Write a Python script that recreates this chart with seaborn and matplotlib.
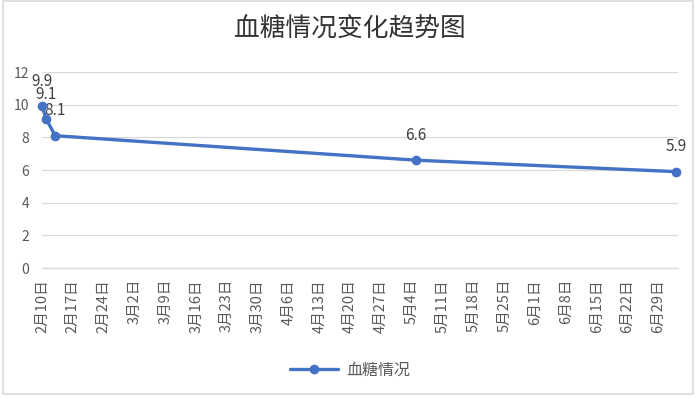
import matplotlib
matplotlib.use("Agg")
import matplotlib.pyplot as plt
from matplotlib.patches import Rectangle
import pandas as pd
import seaborn as sns

# ---- data ----
dates = ["2020-02-10", "2020-02-11", "2020-02-13", "2020-05-05", "2020-07-03"]
values = [9.9, 9.1, 8.1, 6.6, 5.9]
series_name = "血糖情况"
title = "血糖情况变化趋势图"
tick_dates = ["2020-02-10", "2020-02-17", "2020-02-24", "2020-03-02", "2020-03-09",
              "2020-03-16", "2020-03-23", "2020-03-30", "2020-04-06", "2020-04-13",
              "2020-04-20", "2020-04-27", "2020-05-04", "2020-05-11", "2020-05-18",
              "2020-05-25", "2020-06-01", "2020-06-08", "2020-06-15", "2020-06-22",
              "2020-06-29"]
tick_labels = ["2月10日", "2月17日", "2月24日", "3月2日", "3月9日", "3月16日", "3月23日",
               "3月30日", "4月6日", "4月13日", "4月20日", "4月27日", "5月4日", "5月11日",
               "5月18日", "5月25日", "6月1日", "6月8日", "6月15日", "6月22日", "6月29日"]
y_ticks = [0, 2, 4, 6, 8, 10, 12]

sns.set_theme(style="white")
plt.rcParams["font.family"] = ["Noto Sans CJK SC", "DejaVu Sans"]

df = pd.DataFrame({"date": pd.to_datetime(dates), "value": values, "series": series_name})

fig = plt.figure(figsize=(7.0, 3.99), dpi=100)
ax = fig.add_axes([42 / 700, 1 - 268 / 399, (678 - 42) / 700, (268 - 72) / 399])

blue = "#4472C4"
sns.lineplot(data=df, x="date", y="value", hue="series", palette=[blue], ax=ax,
             marker="o", markersize=7, markeredgewidth=0, linewidth=2.4, legend=False)
for ln in ax.lines:
    ln.set_clip_on(False)
    ln.set_zorder(5)

for d, v in zip(df["date"], df["value"]):
    ax.annotate(f"{v}", (d, v), xytext=(0, 18), textcoords="offset points",
                ha="center", va="center", fontsize=11, color="#404040")

ax.set_xlim(pd.Timestamp("2020-02-10"), pd.Timestamp("2020-07-03") + pd.Timedelta(hours=12))
ax.set_ylim(0, 12)
ax.set_yticks(y_ticks)
ax.set_yticklabels([str(t) for t in y_ticks], fontsize=10, color="#595959")
ax.set_xticks(pd.to_datetime(tick_dates))
ax.set_xticklabels(tick_labels, rotation=90, fontsize=10.5, color="#595959")
ax.tick_params(axis="x", direction="out", length=5, width=0.8, color="#bfbfbf", pad=3)
ax.tick_params(axis="y", length=0, pad=9)
ax.grid(axis="y", color="#d9d9d9", linewidth=0.9)
ax.grid(axis="x", visible=False)
for s in ["top", "right", "left"]:
    ax.spines[s].set_visible(False)
ax.spines["bottom"].set_color("#d9d9d9")
ax.spines["bottom"].set_linewidth(0.9)
ax.set_xlabel("")
ax.set_ylabel("")

fig.text(0.5, 1 - 30 / 399, title, ha="center", va="center", fontsize=18.5, color="#333333")

handle = plt.Line2D([], [], color=blue, linewidth=2.4, marker="o", markersize=7,
                    markeredgewidth=0)
fig.legend([handle], [series_name], loc="center", bbox_to_anchor=(0.5, 1 - 370 / 399),
           frameon=False, fontsize=11.5, labelcolor="#595959", handlelength=3,
           handletextpad=0.5)

fig.patches.append(Rectangle((3 / 700, 5 / 399), 690 / 700, 393 / 399,
                             transform=fig.transFigure, fill=False,
                             edgecolor="#d9d9d9", linewidth=1.2))

fig.savefig("out.png", dpi=100)
